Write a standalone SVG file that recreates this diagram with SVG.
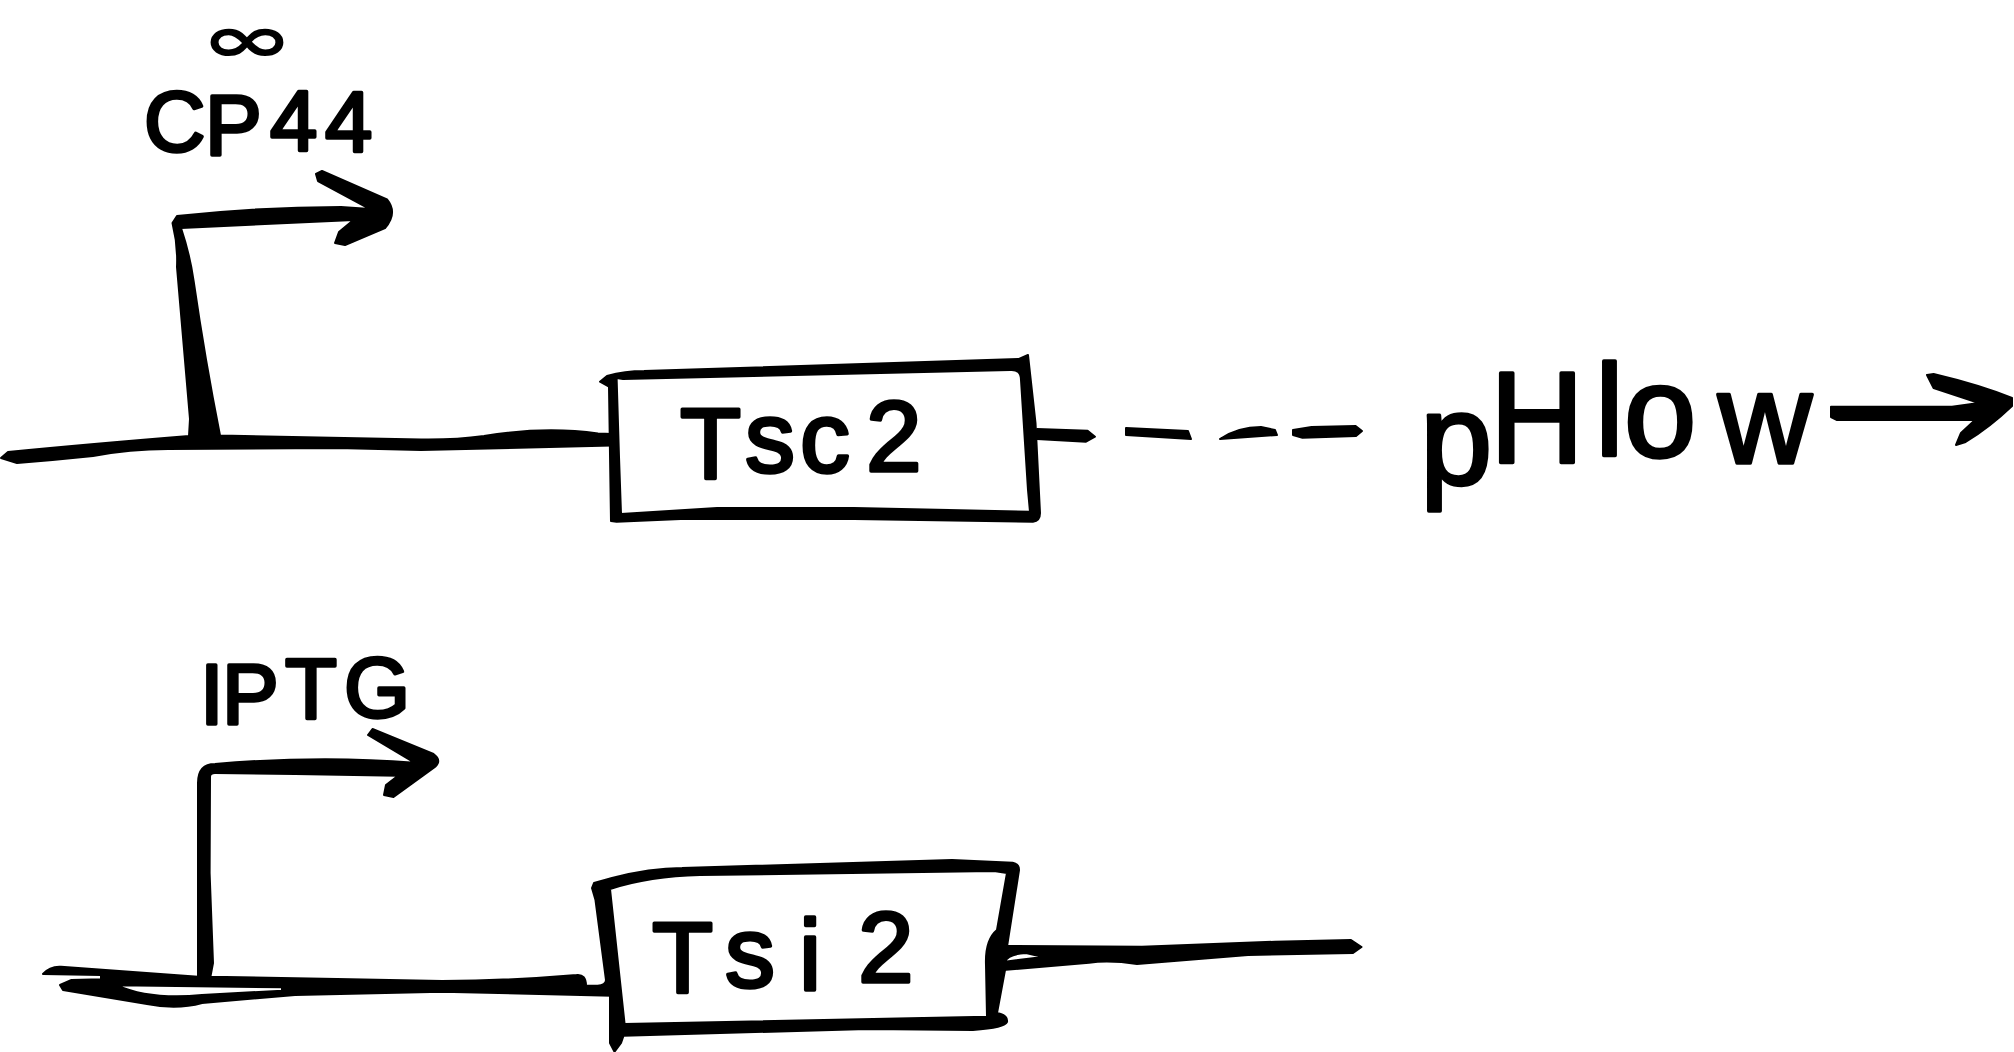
<svg xmlns="http://www.w3.org/2000/svg" width="2014" height="1052" viewBox="0 0 2014 1052">
<style>
.ink{fill:#000;stroke:#000;stroke-width:2;stroke-linejoin:round;fill-rule:evenodd}
.hand{font-family:"Liberation Sans",Arial,sans-serif;fill:#000;stroke:#000;stroke-width:3.5;stroke-linejoin:round}
</style>
<rect width="2014" height="1052" fill="#fff"/>
<g id="connectors">
<path id="promoter-1" class="ink" d="M1 458L8 452Q90 444 189 436L190 419L177 267Q178 245 172.5 223L177 216Q260 207 341 207L370 209L318 181L316 174L322 171L387 199.5Q398 213 385 228L345 245L335 243L339 232L353.5 220L181 228Q190 255 193.6 281Q205 360 220 435.5L421 439.5Q455 440 484 436Q545 426 598 433.5L612 434L612 445.5L421 450L337 448L168 449Q130 449 93 456Q55 460 17 463Z"/>
<path id="tsc2-out" class="ink" d="M1037 429L1087.6 430.7L1095 436.7L1086 441.7L1037 439Z"/>
<path id="dash-1" class="ink" d="M1126 428L1188 431L1191 439L1126 435Z"/>
<path id="dash-2" class="ink" d="M1220 439Q1238 427 1261 427L1275 430L1277 435Z"/>
<path id="dash-3" class="ink" d="M1293 430L1311.6 427L1355.6 426L1362 431L1356 436L1302.5 437.7L1293 435Z"/>
<path id="phlow-arrow" class="ink" d="M1831 406.7L1952 406.7L1979 403L1933.6 388L1927 375L1933.6 374Q1980 385 2012 398L2012 406Q1990 427 1965.6 442L1956 445L1961 433L1975 420L1837 420L1831 417Z"/>
<path id="promoter-2" class="ink" d="M43 974Q50 966 61 966.7L198 976.7L198 783Q198 764 215 764Q320 755 414.5 762.7L368 735L372.5 729L433.5 754Q443 761 433.5 768L393.5 797L384 795L386 785L398 775.7L295 774L215 773Q210 773 210 776.7L209.6 873L213 963L210.4 976.7L337 979L442 981Q505 981 576.6 975Q586 974 586 985.7L597.6 985.7Q606 985 606 980L612 980L612 995.7L442 991.7L295 995L202 1003Q177 1010 147 1004L63 990L60 985L71.5 980L101 979.3L101 975ZM117 985.3L282 987.3L282 990.7L202 995Q150 1000 117 985.3Z"/>
<path id="tsi2-out" class="ink" d="M1005 946L1142 946.7L1275 941.7L1351 940L1361.5 947L1353 953L1248 955L1137 964Q1110 960 1089 962.7L1003 970ZM1005 961.7Q1008 954 1026 953L1043 957Z"/>
</g>
<g id="node-tsc2">
<path class="ink" d="M600 381.7L607 376Q625 371 644 371L1019 359L1028 355L1035.5 423L1040 513Q1040 521 1033 521.7L854 519L680.6 519L616.6 521.7L611 521L609 386.7ZM616.6 378L623 379L1010 370Q1021 369 1021 380L1028 490L1030 511.7L854 508L717 508L621 514L619 457Z"/>
<text class="hand" font-size="100" x="680 745 800 850 866" y="478 472 472 472 471">Tsc 2</text>
</g>
<g id="node-tsi2">
<path class="ink" d="M592 888L594 883L612 878Q650 868 682 868L952 860L1012.6 862.7Q1019 864 1019 870L1007 946.7L1005 970L997 1013Q1008 1015 1007 1022Q1005 1028 973 1030L867 1029L623.5 1035.7L621 1043L614.5 1051.7L610 1043L610 995.7L606 980L595.5 900ZM610 889Q650 876 700 875L994 871L1007 873L997 930Q985 940 986 965L987 1016.7L624.6 1024Z"/>
<text class="hand" font-size="100" x="652 725 799 830 858" y="992 987 990 985 982">Tsi 2</text>
</g>
<g id="label-infinity">
<text transform="translate(247 0) scale(1.7 1)" x="0" y="62" text-anchor="middle" font-size="66" font-weight="bold" font-family="'DejaVu Sans',sans-serif" fill="#000">∞</text>
</g>
<g id="label-cp44"><text class="hand" font-size="85" x="144 205 270 325" y="151 155 150 151">CP44</text></g>
<g id="label-iptg"><text class="hand" font-size="85" x="200 222 285 344" y="724 724 718 717">IPTG</text></g>
<g id="label-phlow"><text class="hand" font-size="130" x="1420 1490 1595 1624 1718" y="484 462 455 457 463">pHlow</text></g>
</svg>
